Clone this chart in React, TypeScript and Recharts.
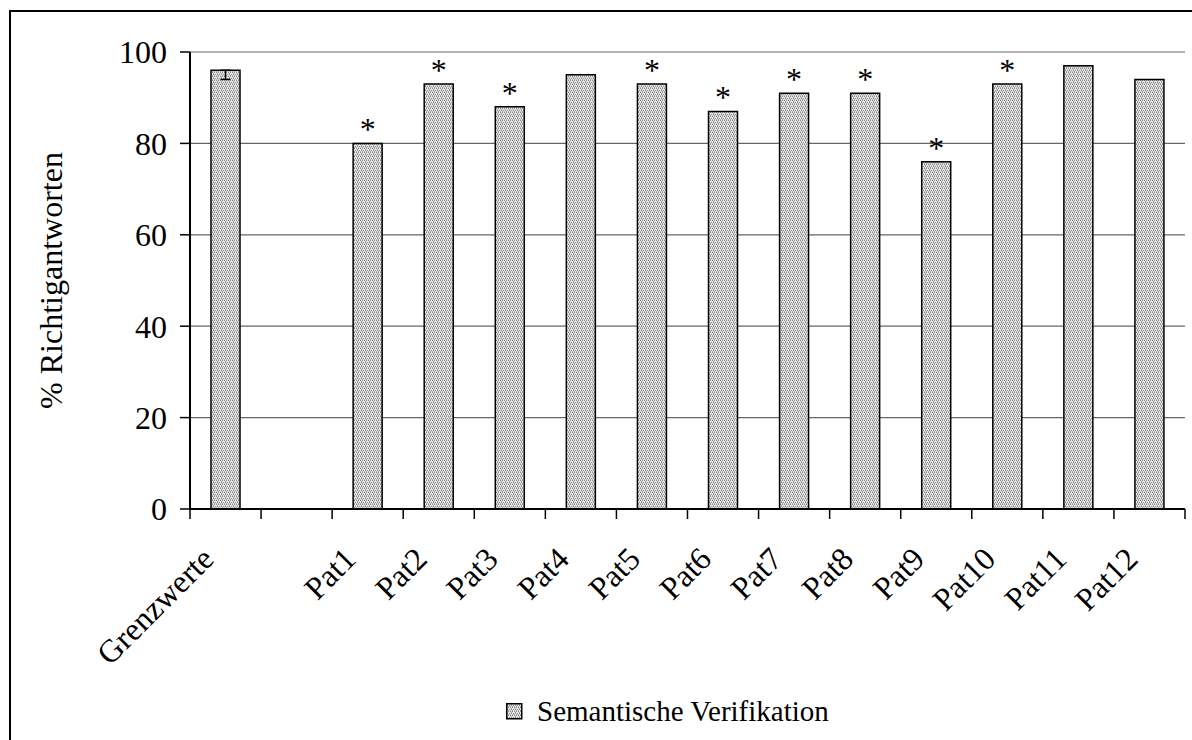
import { BarChart, Bar, XAxis, YAxis, CartesianGrid, Legend, LabelList, ErrorBar } from "recharts";

const categories = ["Grenzwerte", "", "Pat1", "Pat2", "Pat3", "Pat4", "Pat5", "Pat6", "Pat7", "Pat8", "Pat9", "Pat10", "Pat11", "Pat12"];
const verification = [96, null, 80, 93, 88, 95, 93, 87, 91, 91, 76, 93, 97, 94];
const lowerError = [2, null, null, null, null, null, null, null, null, null, null, null, null, null];
const significant = ["", "", "*", "*", "*", "", "*", "*", "*", "*", "*", "*", "", ""];
const yTicks = [0, 20, 40, 60, 80, 100];

const data = categories.map((name, i) => ({
  name,
  value: verification[i],
  err: lowerError[i] == null ? undefined : [lowerError[i], 0],
  star: significant[i],
}));

const FONT = "'Liberation Serif', 'Times New Roman', serif";
const W = 1192;
const H = 740;
const margin = { top: 52, right: 7, left: 0, bottom: 0 };
const yAxisWidth = 190;
const band = (W - margin.left - margin.right - yAxisWidth) / categories.length;

function XTick(props: any) {
  const { x, y, payload, index } = props;
  const left = x - band / 2;
  const right = x + band / 2;
  return (
    <g>
      <line x1={left} y1={y - 10} x2={left} y2={y} stroke="#000" strokeWidth={1.5} />
      {index === categories.length - 1 && (
        <line x1={right} y1={y - 10} x2={right} y2={y} stroke="#000" strokeWidth={1.5} />
      )}
      <text
        x={x - 10}
        y={y + 42}
        transform={`rotate(-45, ${x - 10}, ${y + 42})`}
        textAnchor="end"
        fontFamily={FONT}
        fontSize={32}
        fill="#000"
      >
        {payload.value}
      </text>
    </g>
  );
}

function StarLabel(props: any) {
  const { x, y, width, value } = props;
  if (!value) return null;
  return (
    <text x={x + width / 2} y={y - 3} textAnchor="middle" fontFamily={FONT} fontSize={32} fill="#000">
      {value}
    </text>
  );
}

function YTitle(props: any) {
  const vb = props.viewBox;
  const cy = vb.y + vb.height / 2;
  return (
    <text
      x={62}
      y={cy}
      transform={`rotate(-90, 62, ${cy})`}
      textAnchor="middle"
      fontFamily={FONT}
      fontSize={32}
      fill="#000"
    >
      % Richtigantworten
    </text>
  );
}

function LegendContent() {
  return (
    <div style={{ height: 58, display: "flex", alignItems: "center", paddingLeft: 506, fontFamily: FONT, fontSize: 29 }}>
      <svg width={17} height={17} style={{ marginRight: 14 }}>
        <rect x={0.75} y={0.75} width={15} height={15} fill="url(#dots)" stroke="#000" strokeWidth={1.5} />
      </svg>
      <span style={{ color: "#000" }}>Semantische Verifikation</span>
    </div>
  );
}

export default function App() {
  return (
    <div style={{ position: "fixed", left: 0, top: 0, width: W, height: H, overflow: "hidden", background: "#fff" }}>
      <svg width={0} height={0} style={{ position: "absolute" }}>
        <defs>
          <pattern id="dots" width={4} height={4} patternUnits="userSpaceOnUse">
            <rect width={4} height={4} fill="#e6e6e6" />
            <rect x={0} y={0} width={1} height={1} fill="#8a8a8a" />
            <rect x={2} y={0} width={1} height={1} fill="#8a8a8a" />
            <rect x={1} y={1} width={1} height={1} fill="#a0a0a0" />
            <rect x={3} y={2} width={1} height={1} fill="#8a8a8a" />
            <rect x={1} y={2} width={1} height={1} fill="#8a8a8a" />
            <rect x={2} y={3} width={1} height={1} fill="#a0a0a0" />
            <rect x={0} y={3} width={1} height={1} fill="#b4b4b4" />
          </pattern>
        </defs>
      </svg>
      <div
        style={{
          position: "absolute",
          left: 9,
          top: 10,
          width: W,
          height: H,
          border: "2px solid #000",
        }}
      />
      <div style={{ position: "absolute", left: 0, top: 0 }}>
        <BarChart width={W} height={H} data={data} margin={margin}>
          <CartesianGrid horizontal vertical={false} stroke="#666" strokeWidth={1.2} />
          <XAxis
            dataKey="name"
            interval={0}
            height={173}
            tickSize={10}
            tickMargin={0}
            tickLine={false}
            axisLine={{ stroke: "#000", strokeWidth: 2 }}
            tick={<XTick />}
          />
          <YAxis
            width={yAxisWidth}
            domain={[0, 100]}
            ticks={yTicks}
            tickSize={10}
            tickMargin={13}
            axisLine={{ stroke: "#000", strokeWidth: 2 }}
            tickLine={{ stroke: "#000", strokeWidth: 1.5 }}
            tick={{ fill: "#000", fontSize: 32, fontFamily: FONT }}
            label={<YTitle />}
          />
          <YAxis
            yAxisId="frame"
            orientation="right"
            width={0}
            domain={[0, 100]}
            tick={false}
            tickLine={false}
            axisLine={{ stroke: "#555", strokeWidth: 1.5 }}
          />
          <Legend verticalAlign="bottom" content={<LegendContent />} />
          <Bar
            dataKey="value"
            name="Semantische Verifikation"
            fill="url(#dots)"
            stroke="#000"
            strokeWidth={1.5}
            barSize={29}
            isAnimationActive={false}
          >
            <ErrorBar dataKey="err" direction="y" width={5} stroke="#000" strokeWidth={1.5} />
            <LabelList dataKey="star" content={<StarLabel />} />
          </Bar>
        </BarChart>
      </div>
    </div>
  );
}
